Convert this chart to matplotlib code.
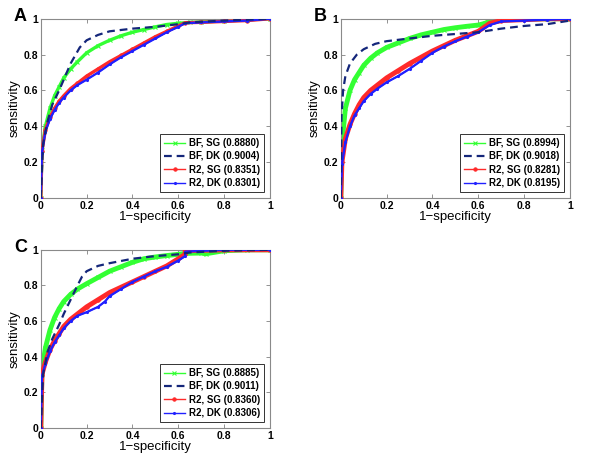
import matplotlib
matplotlib.use("Agg")
import matplotlib.pyplot as plt

plt.rcParams['font.family'] = ['Liberation Sans', 'DejaVu Sans']

# ---------- panel A ----------
a_bf_sg_x = [0, 0.005, 0.02, 0.04, 0.06, 0.08, 0.1, 0.13, 0.16, 0.2, 0.25, 0.3, 0.35, 0.4, 0.45, 0.5, 0.55, 0.6, 0.65, 0.7, 0.8, 0.9, 1.0]
a_bf_sg_y = [0, 0.27, 0.40, 0.50, 0.57, 0.62, 0.67, 0.72, 0.76, 0.81, 0.85, 0.88, 0.905, 0.925, 0.94, 0.955, 0.968, 0.975, 0.98, 0.982, 0.988, 0.994, 1.0]
a_bf_dk_x = [0, 0.01, 0.03, 0.05, 0.08, 0.1, 0.13, 0.17, 0.2, 0.25, 0.3, 0.4, 0.5, 0.6, 0.65, 0.8, 1.0]
a_bf_dk_y = [0, 0.30, 0.43, 0.52, 0.60, 0.66, 0.75, 0.84, 0.88, 0.91, 0.93, 0.945, 0.955, 0.97, 0.98, 0.99, 1.0]
a_r2_sg_x = [0, 0.005, 0.02, 0.04, 0.06, 0.08, 0.1, 0.13, 0.16, 0.2, 0.25, 0.3, 0.35, 0.4, 0.45, 0.5, 0.55, 0.6, 0.63, 0.7, 0.8, 0.9, 1.0]
a_r2_sg_y = [0, 0.26, 0.38, 0.45, 0.50, 0.54, 0.57, 0.61, 0.64, 0.68, 0.72, 0.76, 0.795, 0.83, 0.865, 0.90, 0.93, 0.96, 0.978, 0.98, 0.985, 0.99, 1.0]
a_r2_dk_x = [0, 0.005, 0.02, 0.04, 0.06, 0.08, 0.1, 0.13, 0.16, 0.2, 0.25, 0.3, 0.35, 0.4, 0.45, 0.5, 0.55, 0.6, 0.63, 0.7, 0.8, 0.9, 1.0]
a_r2_dk_y = [0, 0.25, 0.37, 0.44, 0.49, 0.53, 0.56, 0.60, 0.63, 0.66, 0.70, 0.745, 0.785, 0.82, 0.855, 0.89, 0.925, 0.955, 0.975, 0.98, 0.985, 0.99, 1.0]
a_labels = ['BF, SG (0.8880)', 'BF, DK (0.9004)', 'R2, SG (0.8351)', 'R2, DK (0.8301)']

# ---------- panel B ----------
b_bf_sg_x = [0, 0.005, 0.02, 0.04, 0.06, 0.08, 0.1, 0.13, 0.16, 0.2, 0.25, 0.3, 0.35, 0.4, 0.45, 0.5, 0.55, 0.6, 0.63, 0.65, 0.7, 0.8, 0.9, 1.0]
b_bf_sg_y = [0, 0.30, 0.50, 0.60, 0.66, 0.70, 0.74, 0.78, 0.81, 0.84, 0.865, 0.89, 0.91, 0.925, 0.94, 0.95, 0.958, 0.965, 0.975, 0.988, 0.995, 0.998, 1.0, 1.0]
b_bf_dk_x = [0, 0.003, 0.01, 0.02, 0.04, 0.07, 0.1, 0.15, 0.2, 0.3, 0.4, 0.5, 0.6, 0.7, 0.8, 0.9, 1.0]
b_bf_dk_y = [0, 0.45, 0.60, 0.68, 0.75, 0.80, 0.83, 0.86, 0.875, 0.89, 0.905, 0.915, 0.925, 0.945, 0.96, 0.97, 0.99]
b_r2_sg_x = [0, 0.005, 0.02, 0.04, 0.06, 0.08, 0.1, 0.13, 0.16, 0.2, 0.25, 0.3, 0.35, 0.4, 0.45, 0.5, 0.55, 0.6, 0.65, 0.7, 0.8, 0.9, 1.0]
b_r2_sg_y = [0, 0.20, 0.33, 0.41, 0.47, 0.52, 0.56, 0.60, 0.63, 0.67, 0.71, 0.75, 0.785, 0.82, 0.85, 0.88, 0.905, 0.93, 0.975, 0.99, 0.995, 1.0, 1.0]
b_r2_dk_x = [0, 0.005, 0.02, 0.04, 0.06, 0.08, 0.1, 0.13, 0.16, 0.2, 0.25, 0.3, 0.35, 0.4, 0.45, 0.5, 0.55, 0.6, 0.65, 0.7, 0.8, 0.9, 1.0]
b_r2_dk_y = [0, 0.19, 0.31, 0.40, 0.46, 0.50, 0.54, 0.58, 0.61, 0.645, 0.68, 0.72, 0.765, 0.81, 0.845, 0.875, 0.90, 0.925, 0.965, 0.985, 0.99, 0.995, 1.0]
b_labels = ['BF, SG (0.8994)', 'BF, DK (0.9018)', 'R2, SG (0.8281)', 'R2, DK (0.8195)']

# ---------- panel C ----------
c_bf_sg_x = [0, 0.005, 0.02, 0.04, 0.06, 0.08, 0.1, 0.13, 0.16, 0.2, 0.25, 0.3, 0.35, 0.4, 0.45, 0.5, 0.55, 0.6, 0.63, 0.7, 0.72, 0.8, 0.9, 1.0]
c_bf_sg_y = [0, 0.32, 0.45, 0.55, 0.62, 0.67, 0.71, 0.75, 0.78, 0.81, 0.845, 0.88, 0.905, 0.93, 0.95, 0.96, 0.968, 0.975, 0.98, 0.982, 0.978, 0.995, 1.0, 1.0]
c_bf_dk_x = [0, 0.01, 0.03, 0.05, 0.08, 0.1, 0.13, 0.16, 0.18, 0.2, 0.25, 0.3, 0.4, 0.5, 0.6, 0.65, 0.8, 1.0]
c_bf_dk_y = [0, 0.30, 0.43, 0.50, 0.58, 0.64, 0.72, 0.80, 0.85, 0.88, 0.91, 0.925, 0.95, 0.965, 0.975, 0.985, 0.995, 1.0]
c_r2_sg_x = [0, 0.005, 0.02, 0.04, 0.06, 0.08, 0.1, 0.13, 0.16, 0.2, 0.25, 0.3, 0.35, 0.4, 0.45, 0.5, 0.55, 0.6, 0.63, 0.63, 0.8, 1.0]
c_r2_sg_y = [0, 0.30, 0.37, 0.44, 0.49, 0.53, 0.57, 0.61, 0.64, 0.68, 0.72, 0.76, 0.79, 0.82, 0.85, 0.88, 0.91, 0.95, 0.975, 0.995, 1.0, 1.0]
c_r2_dk_x = [0, 0.005, 0.02, 0.04, 0.06, 0.08, 0.1, 0.13, 0.16, 0.2, 0.25, 0.28, 0.3, 0.35, 0.4, 0.45, 0.5, 0.55, 0.6, 0.63, 0.63, 0.8, 1.0]
c_r2_dk_y = [0, 0.29, 0.36, 0.43, 0.48, 0.52, 0.56, 0.60, 0.63, 0.65, 0.68, 0.71, 0.74, 0.78, 0.82, 0.85, 0.88, 0.905, 0.94, 0.965, 0.99, 1.0, 1.0]
c_labels = ['BF, SG (0.8885)', 'BF, DK (0.9011)', 'R2, SG (0.8360)', 'R2, DK (0.8306)']

GREEN = '#33ff33'
NAVY = '#14267a'
RED = '#ff2a2a'
BLUE = '#2020ff'


def draw_panel(ax, curves, labels, letter, band):
    (gx, gy), (dx, dy), (rx, ry), (bx, by) = curves
    # dense markers in the original make these look like wide bands
    ax.plot(gx, gy, color=GREEN, lw=band, label='_nolegend_', zorder=2)
    ax.plot(rx, ry, color=RED, lw=band, label='_nolegend_', zorder=3)
    ax.plot(bx, by, color=BLUE, lw=1.6, label='_nolegend_', zorder=4)

    ax.plot(gx, gy, color=GREEN, lw=1, marker='x', ms=3, mew=0.8, label=labels[0], zorder=2)
    ax.plot(dx, dy, color=NAVY, lw=1.6, ls=(0, (3.5, 2.2)), label=labels[1], zorder=5)
    ax.plot(rx, ry, color=RED, lw=1, marker='o', ms=2.5, mew=0.6, mfc=RED, label=labels[2], zorder=3)
    ax.plot(bx, by, color=BLUE, lw=1, marker='.', ms=2.5, label=labels[3], zorder=4)

    ax.set_xlim(0, 1)
    ax.set_ylim(0, 1)
    ticks = [0, 0.2, 0.4, 0.6, 0.8, 1]
    ticklabels = ['0', '0.2', '0.4', '0.6', '0.8', '1']
    ax.set_xticks(ticks)
    ax.set_xticklabels(ticklabels)
    ax.set_yticks(ticks)
    ax.set_yticklabels(ticklabels)
    ax.tick_params(direction='in', length=3, width=0.6, top=True, right=True,
                   labelsize=7.5, pad=2, colors='#808080', labelcolor='black')
    for lab in ax.get_xticklabels() + ax.get_yticklabels():
        lab.set_fontweight('bold')
    for spine in ax.spines.values():
        spine.set_linewidth(0.8)
        spine.set_color('#8a8a8a')
    ax.set_xlabel('1\u2212specificity', fontsize=9.5, labelpad=0)
    ax.set_ylabel('sensitivity', fontsize=9.5, labelpad=2)

    leg = ax.legend(loc='lower right', prop={'weight': 'bold', 'size': 7},
                    frameon=True, fancybox=False, edgecolor='black', numpoints=1,
                    handlelength=2.2, handletextpad=0.4, borderpad=0.4,
                    labelspacing=0.35, borderaxespad=0.6)
    leg.get_frame().set_linewidth(0.7)

    pos = ax.get_position()
    ax.figure.text(pos.x0 - 0.045, pos.y1 + 0.005, letter, fontsize=13,
                   fontweight='bold', ha='left', va='center')


fig = plt.figure(figsize=(6, 4.58), dpi=100)
ax_a = fig.add_axes([0.068, 0.568, 0.382, 0.391])
ax_b = fig.add_axes([0.568, 0.568, 0.382, 0.391])
ax_c = fig.add_axes([0.068, 0.0655, 0.382, 0.389])

draw_panel(ax_a, [(a_bf_sg_x, a_bf_sg_y), (a_bf_dk_x, a_bf_dk_y),
                  (a_r2_sg_x, a_r2_sg_y), (a_r2_dk_x, a_r2_dk_y)], a_labels, 'A', 2.4)
draw_panel(ax_b, [(b_bf_sg_x, b_bf_sg_y), (b_bf_dk_x, b_bf_dk_y),
                  (b_r2_sg_x, b_r2_sg_y), (b_r2_dk_x, b_r2_dk_y)], b_labels, 'B', 3.5)
draw_panel(ax_c, [(c_bf_sg_x, c_bf_sg_y), (c_bf_dk_x, c_bf_dk_y),
                  (c_r2_sg_x, c_r2_sg_y), (c_r2_dk_x, c_r2_dk_y)], c_labels, 'C', 3.5)

fig.savefig('out.png', dpi=100, facecolor='white')
